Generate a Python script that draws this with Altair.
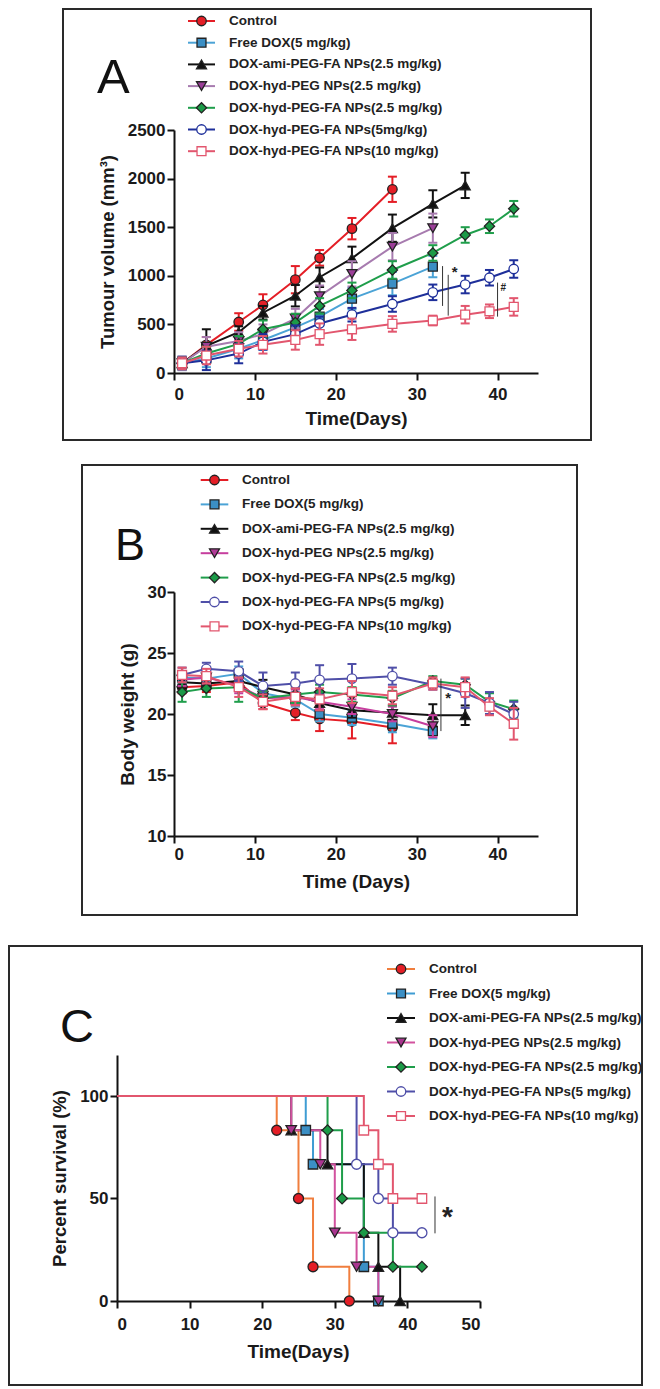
import altair as alt
import pandas as pd

FONT = "Liberation Sans"

# ---------------- shared series description ----------------
labels_A = ["Control", "Free DOX(5 mg/kg)", "DOX-ami-PEG-FA NPs(2.5 mg/kg)",
            "DOX-hyd-PEG NPs(2.5 mg/kg)", "DOX-hyd-PEG-FA NPs(2.5 mg/kg)",
            "DOX-hyd-PEG-FA NPs(5mg/kg)", "DOX-hyd-PEG-FA NPs(10 mg/kg)"]
labels_B = ["Control", "Free DOX(5 mg/kg)", "DOX-ami-PEG-FA NPs(2.5 mg/kg)",
            "DOX-hyd-PEG NPs(2.5 mg/kg)", "DOX-hyd-PEG-FA NPs(2.5 mg/kg)",
            "DOX-hyd-PEG-FA NPs(5 mg/kg)", "DOX-hyd-PEG-FA NPs(10 mg/kg)"]
labels_C = ["Control", " Free DOX(5 mg/kg)", "DOX-ami-PEG-FA NPs(2.5 mg/kg)",
            "DOX-hyd-PEG NPs(2.5 mg/kg)", "DOX-hyd-PEG-FA NPs(2.5 mg/kg)",
            "DOX-hyd-PEG-FA NPs(5 mg/kg)", "DOX-hyd-PEG-FA NPs(10 mg/kg)"]

shapes = ["circle", "square", "triangle-up", "triangle-down", "diamond", "circle", "square"]
hollow = [False, False, False, False, False, True, True]
marker_sizes = [90, 80, 100, 100, 105, 90, 80]

line_A = ["#E41E26", "#4BA3D6", "#111111", "#A77BAF", "#1F9E4B", "#1E2F9A", "#E2566E"]
fill_A = ["#E41E26", "#3B8FC5", "#111111", "#9B3E98", "#1B9A47", "white", "white"]
line_B = ["#E41E26", "#4BA3D6", "#111111", "#C63E9E", "#1F9E4B", "#4F4FA8", "#E2566E"]
fill_B = ["#E41E26", "#3B8FC5", "#111111", "#B03A96", "#1B9A47", "white", "white"]
line_C = ["#F07E3E", "#3F9CD3", "#111111", "#D2529F", "#1F9E4B", "#4F4FA8", "#E2566E"]
fill_C = ["#E41E26", "#3B8FC5", "#111111", "#A9358F", "#1B9A47", "white", "white"]

# ---------------- Panel A: tumour volume (mm3) ----------------
days = [1, 4, 8, 11, 15, 18, 22, 27, 32, 36, 39, 42]

tv_control = [100, 290, 525, 700, 960, 1185, 1485, 1890]
tv_control_err = [60, 80, 90, 110, 140, 80, 110, 130]
tv_free = [100, 150, 250, 340, 470, 580, 765, 920, 1095]
tv_free_err = [70, 90, 100, 100, 90, 80, 110, 120, 110]
tv_ami = [100, 280, 420, 620, 795, 985, 1180, 1490, 1740, 1930]
tv_ami_err = [60, 170, 60, 70, 110, 100, 120, 140, 140, 130]
tv_peg = [100, 270, 330, 400, 560, 790, 1020, 1300, 1490]
tv_peg_err = [70, 100, 90, 100, 100, 110, 130, 140, 150]
tv_fa25 = [100, 200, 300, 450, 520, 690, 850, 1060, 1235, 1420, 1510, 1690]
tv_fa25_err = [60, 70, 80, 90, 90, 80, 80, 90, 80, 80, 70, 80]
tv_fa5 = [100, 130, 200, 320, 400, 510, 600, 710, 830, 910, 980, 1070]
tv_fa5_err = [60, 100, 100, 80, 90, 70, 70, 80, 80, 90, 80, 90]
tv_fa10 = [100, 180, 250, 290, 340, 400, 450, 505, 540, 600, 635, 680]
tv_fa10_err = [60, 90, 80, 90, 100, 110, 110, 80, 50, 90, 70, 90]

# ---------------- Panel B: body weight (g) ----------------
bw_control = [22.2, 22.3, 22.6, 20.9, 20.1, 19.6, 19.4, 18.9]
bw_control_err = [0.5, 0.5, 0.5, 0.5, 0.6, 1.0, 1.4, 1.3]
bw_free = [23.0, 22.9, 23.3, 21.7, 21.2, 20.0, 19.7, 19.2, 18.6]
bw_free_err = [0.5, 0.5, 0.6, 0.6, 0.6, 0.6, 0.6, 0.7, 0.6]
bw_ami = [22.6, 22.5, 22.7, 22.2, 21.6, 20.9, 20.3, 20.1, 19.9, 19.9]
bw_ami_err = [0.5, 0.5, 0.6, 0.6, 0.5, 0.6, 0.6, 0.6, 0.9, 0.8]
bw_peg = [22.8, 23.0, 22.3, 21.3, 21.4, 21.0, 20.6, 20.0, 19.0]
bw_peg_err = [0.5, 0.5, 0.6, 0.6, 0.6, 0.6, 0.6, 0.6, 0.9]
bw_fa25 = [21.8, 22.1, 22.2, 21.3, 21.6, 21.8, 21.6, 21.3, 22.7, 22.4, 21.0, 20.4]
bw_fa25_err = [0.8, 0.7, 1.2, 0.6, 0.7, 0.6, 0.6, 0.6, 0.4, 0.5, 0.7, 0.7]
bw_fa5 = [23.2, 23.7, 23.5, 22.3, 22.5, 22.8, 22.9, 23.1, 22.4, 21.7, 20.9, 20.0]
bw_fa5_err = [0.6, 0.5, 0.8, 1.1, 0.9, 1.2, 1.2, 0.7, 0.4, 1.2, 0.9, 1.0]
bw_fa10 = [23.2, 23.1, 22.2, 21.0, 21.4, 21.2, 21.8, 21.5, 22.5, 22.2, 20.6, 19.2]
bw_fa10_err = [0.6, 0.6, 0.8, 0.6, 0.7, 0.9, 0.9, 0.7, 0.5, 0.8, 0.7, 1.3]

# ---------------- Panel C: survival (%) ----------------
sv_control_days = [0, 22, 25, 27, 32]
sv_control = [100, 83.3, 50, 16.7, 0]
sv_free_days = [0, 26, 27, 34, 36]
sv_free = [100, 83.3, 66.7, 16.7, 0]
sv_ami_days = [0, 24, 29, 34, 36, 39]
sv_ami = [100, 83.3, 66.7, 33.3, 16.7, 0]
sv_peg_days = [0, 24, 28, 30, 33, 36]
sv_peg = [100, 83.3, 66.7, 33.3, 16.7, 0]
sv_fa25_days = [0, 29, 31, 34, 38, 42]
sv_fa25 = [100, 83.3, 50, 33.3, 16.7, 16.7]
sv_fa5_days = [0, 33, 36, 38, 42]
sv_fa5 = [100, 66.7, 50, 33.3, 33.3]
sv_fa10_days = [0, 34, 36, 38, 42]
sv_fa10 = [100, 83.3, 66.7, 50, 50]

# significance marks: (x, y_from, y_to) and text labels
sig_A_rules = [(33.2, 690, 1100), (33.9, 590, 1010), (40.0, 580, 930)]
sig_A_text = [(34.7, 1040, "*", 15), (40.7, 874, "#", 10)]
sig_B_rules = [(33.0, 18.6, 22.9)]
sig_B_text = [(33.9, 21.3, "*", 15)]
sig_C_rules = [(43.8, 33, 51)]
sig_C_text = [(45.5, 40.5, "*", 28)]

ONE = pd.DataFrame({"k": [0]})


def edge_of(i, line_cols):
    return line_cols[i] if hollow[i] else "#222222"


def frame(l, r, t, b):
    return alt.Chart(ONE).mark_rect(filled=False, stroke="#2a2a2a", strokeWidth=2).encode(
        x=alt.value(l), x2=alt.value(r), y=alt.value(t), y2=alt.value(b))


def letter(ch, x, y, size):
    return alt.Chart(ONE).mark_text(align="left", baseline="alphabetic", font=FONT,
                                    fontSize=size, color="#111111").encode(
        x=alt.value(x), y=alt.value(y), text=alt.value(ch))


def legend(labels, line_cols, fill_cols, x_line0, x_line1, x_mark, x_text, y0, dy):
    out = []
    for i, lab in enumerate(labels):
        yy = y0 + i * dy
        out.append(alt.Chart(ONE).mark_rule(color=line_cols[i], strokeWidth=2).encode(
            x=alt.value(x_line0), x2=alt.value(x_line1), y=alt.value(yy)))
        out.append(alt.Chart(ONE).mark_point(shape=shapes[i], filled=True, fill=fill_cols[i],
                                             stroke=edge_of(i, line_cols), strokeWidth=1.3,
                                             size=marker_sizes[i], opacity=1).encode(
            x=alt.value(x_mark), y=alt.value(yy)))
        out.append(alt.Chart(ONE).mark_text(align="left", baseline="middle", font=FONT,
                                            fontSize=13.5, fontWeight="bold", color="#222222").encode(
            x=alt.value(x_text), y=alt.value(yy), text=alt.value(lab)))
    return out


def series_layers(xs_list, ys_list, errs_list, line_cols, fill_cols, X, Y, step=False):
    lines, marks = [], []
    for i in range(len(xs_list)):
        df = pd.DataFrame({"day": xs_list[i], "val": ys_list[i]})
        c = line_cols[i]
        per = []
        if errs_list is not None:
            df["lo"] = [v - e for v, e in zip(ys_list[i], errs_list[i])]
            df["hi"] = [v + e for v, e in zip(ys_list[i], errs_list[i])]
            per.append(alt.Chart(df).mark_rule(color=c, strokeWidth=2).encode(
                x=X("day"), y=Y("lo"), y2="hi:Q"))
            per.append(alt.Chart(df).transform_fold(["lo", "hi"], as_=["end", "v"]).mark_tick(
                orient="horizontal", color=c, thickness=2, size=9, opacity=1).encode(
                x=X("day"), y=Y("v")))
        per.append(alt.Chart(df).mark_line(color=c, strokeWidth=2,
                                           interpolate="step-after" if step else "linear").encode(
            x=X("day"), y=Y("val")))
        mdf = df[df["day"] > 0] if step else df
        mk = alt.Chart(mdf).mark_point(shape=shapes[i], filled=True, fill=fill_cols[i],
                                       stroke=edge_of(i, line_cols), strokeWidth=1.3,
                                       size=marker_sizes[i] + (10 if step else 0), opacity=1).encode(
            x=X("day"), y=Y("val"))
        if step:
            lines += per
            marks.append(mk)
        else:
            lines += per + [mk]
    return lines + marks


def sig_layers(rules, texts, X, Y):
    out = []
    rdf = pd.DataFrame({"day": [r[0] for r in rules], "y1": [r[1] for r in rules],
                        "y2": [r[2] for r in rules]})
    out.append(alt.Chart(rdf).mark_rule(color="#333333", strokeWidth=1).encode(
        x=X("day"), y=Y("y1"), y2="y2:Q"))
    for (tx, ty, t, fs) in texts:
        tdf = pd.DataFrame({"day": [tx], "yy": [ty], "t": [t]})
        out.append(alt.Chart(tdf).mark_text(font=FONT, fontWeight="bold", fontSize=fs,
                                            color="#222222", baseline="middle").encode(
            x=X("day"), y=Y("yy"), text="t:N"))
    return out


def make_xy(xdom, xrange, xvals, xtitle, xlabpad, xtitlepad, ydom, yvals, ytitle,
            ylabpad, ytitlepad, ytitlesize, yoffset=None, titlex=None):
    xscale = alt.Scale(domain=xdom, nice=False, zero=False) if xrange is None else \
        alt.Scale(domain=xdom, nice=False, zero=False, range=xrange)
    xaxis_kw = dict(values=xvals, format="d", title=xtitle, labelPadding=xlabpad,
                    titlePadding=xtitlepad)
    if titlex is not None:
        xaxis_kw["titleX"] = titlex
    xaxis = alt.Axis(**xaxis_kw)
    yscale = alt.Scale(domain=ydom, nice=False, zero=False)
    yaxis_kw = dict(values=yvals, format="d", title=ytitle, labelPadding=ylabpad,
                    titlePadding=ytitlepad, titleFontSize=ytitlesize)
    if yoffset is not None:
        yaxis_kw["offset"] = yoffset
    yaxis = alt.Axis(**yaxis_kw)

    def X(f):
        return alt.X(f + ":Q", scale=xscale, axis=xaxis)

    def Y(f):
        return alt.Y(f + ":Q", scale=yscale, axis=yaxis)
    return X, Y


# ---------- build panel A ----------
XA, YA = make_xy([0, 45], None, [0, 10, 20, 30, 40], "Time(Days)", 6, 7,
                 [0, 2500], [0, 500, 1000, 1500, 2000, 2500], "Tumour volume (mm\u00b3)",
                 2, 10, 18.5)
A_x = [days[:8], days[:9], days[:10], days[:9], days, days, days]
A_y = [tv_control, tv_free, tv_ami, tv_peg, tv_fa25, tv_fa5, tv_fa10]
A_e = [tv_control_err, tv_free_err, tv_ami_err, tv_peg_err, tv_fa25_err, tv_fa5_err, tv_fa10_err]
panel_A = alt.layer(
    frame(-111, 417, -121, 310),
    letter("A", -77, -37, 49),
    *legend(labels_A, line_A, fill_A, 14, 41, 27.5, 55, -109, 21.7),
    *series_layers(A_x, A_y, A_e, line_A, fill_A, XA, YA),
    *sig_layers(sig_A_rules, sig_A_text, XA, YA),
).properties(width=364, height=243)

# ---------- build panel B ----------
XB, YB = make_xy([0, 45], None, [0, 10, 20, 30, 40], "Time (Days)", 3, 10,
                 [10, 30], [10, 15, 20, 25, 30], "Body weight (g)", 1, 10, 19)
B_y = [bw_control, bw_free, bw_ami, bw_peg, bw_fa25, bw_fa5, bw_fa10]
B_e = [bw_control_err, bw_free_err, bw_ami_err, bw_peg_err, bw_fa25_err, bw_fa5_err, bw_fa10_err]
panel_B = alt.layer(
    frame(-92, 403, -127, 323),
    alt.Chart(ONE).mark_rule(color="white", strokeWidth=1).encode(
        x=alt.value(0), x2=alt.value(10), y=alt.value(329.5)),
    letter("B", -59, -32, 45),
    *legend(labels_B, line_B, fill_B, 26.7, 54.3, 40.5, 68, -112, 24.4),
    *series_layers(A_x, B_y, B_e, line_B, fill_B, XB, YB),
    *sig_layers(sig_B_rules, sig_B_text, XB, YB),
).properties(width=364, height=244)

# ---------- build panel C ----------
XC, YC = make_xy([0, 50], [-57, 306], [0, 10, 20, 30, 40, 50], "Time(Days)", 8, 10,
                 [0, 120], [0, 50, 100], "Percent survival (%)", 2, 10, 18.5,
                 yoffset=57, titlex=124)
C_x = [sv_control_days, sv_free_days, sv_ami_days, sv_peg_days, sv_fa25_days, sv_fa5_days,
       sv_fa10_days]
C_y = [sv_control, sv_free, sv_ami, sv_peg, sv_fa25, sv_fa5, sv_fa10]
panel_C = alt.layer(
    frame(-165, 468, -109, 330),
    letter("C", -114, -13, 47),
    *legend(labels_C, line_C, fill_C, 213, 241, 227, 255, -86, 24.5),
    *series_layers(C_x, C_y, None, line_C, fill_C, XC, YC, step=True),
    *sig_layers(sig_C_rules, sig_C_text, XC, YC),
).properties(width=306, height=246)

chart = alt.vconcat(panel_A, panel_B, panel_C, spacing=23).properties(
    padding=0
).configure_view(strokeWidth=0).configure_axis(
    grid=False,
    domainColor="#111111", domainWidth=2,
    tickColor="#111111", tickWidth=2, tickSize=7,
    labelFont=FONT, labelFontSize=17, labelFontWeight="bold", labelColor="#1a1a1a",
    titleFont=FONT, titleFontSize=19, titleFontWeight="bold", titleColor="#1a1a1a",
    labelOverlap=False,
)

chart.save("out.html", embed_options={"renderer": "svg", "actions": False})
